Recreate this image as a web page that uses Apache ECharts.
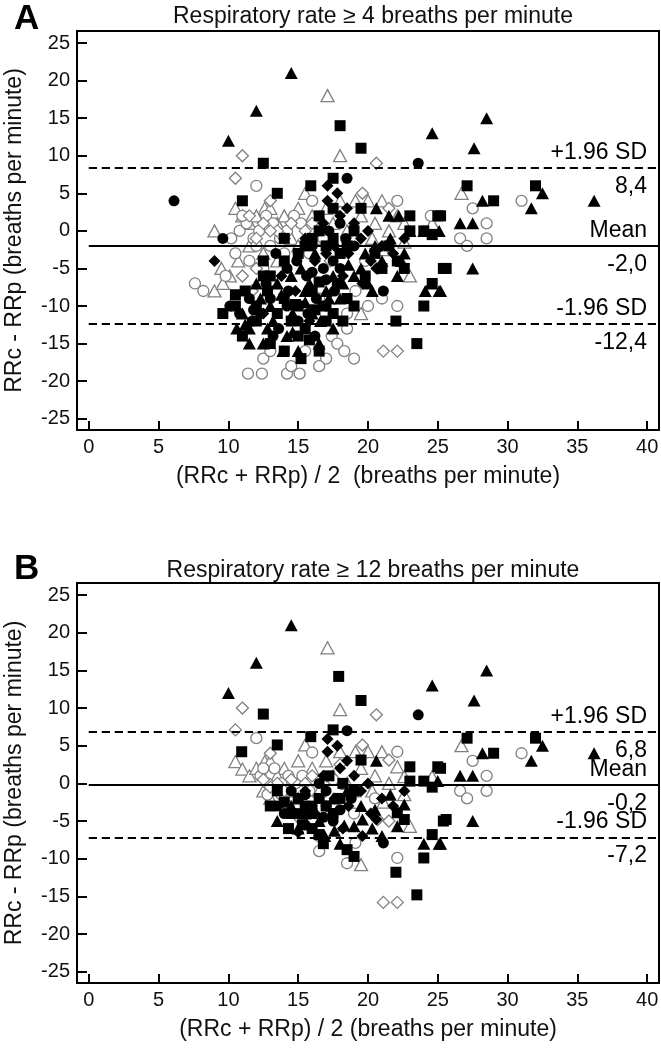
<!DOCTYPE html>
<html>
<head>
<meta charset="utf-8">
<script src="https://cdn.jsdelivr.net/npm/echarts@6/dist/echarts.min.js"></script>
<style>html,body{margin:0;padding:0;background:#fff}#c{width:661px;height:1048px}</style>
</head>
<body>
<div id="c"></div>
<script>
// ---------- DATA ----------
const panelLetters = ['A', 'B'];
const panelTitles = ['Respiratory rate \u2265 4 breaths per minute', 'Respiratory rate \u2265 12 breaths per minute'];
const xTitles = ['(RRc + RRp) / 2  (breaths per minute)', '(RRc + RRp) / 2 (breaths per minute)'];
const yTitle = 'RRc - RRp (breaths per minute)';
const xTicks = [0, 5, 10, 15, 20, 25, 30, 35, 40];
const yTicks = [-25, -20, -15, -10, -5, 0, 5, 10, 15, 20, 25];
// Bland-Altman statistics: [upper LoA, mean, lower LoA]
const statsA = [8.4, -2.0, -12.4];
const statsB = [6.8, -0.2, -7.2];
const statTextA = ['8,4', '-2,0', '-12,4'];
const statTextB = ['6,8', '-0,2', '-7,2'];

// Panel A points [mean, difference]
const A_triOpen = [[17.1,18],[18.0,10],[26.7,5],[10.5,3],[11.0,2],[12.6,3],[9.0,0],[9.5,-5],[10.1,-6],[9.0,-8],[9.6,-7],[15.5,5],[18.0,4],[19.1,4],[20.0,4],[21.0,4],[22.1,2],[22.6,1],[24.6,1],[22.6,-1.5],[21.1,-2.5],[23.0,-6],[19.5,-11],[11.5,1],[12,2],[13,3],[14,2],[15,3],[16,2],[17,3],[13.5,1],[14.5,-1],[15,-2],[16.5,-1],[17.5,1],[18.5,0],[19.5,2],[20.5,1],[21.5,0],[11.5,-2],[12.5,-3],[10.7,-4],[13.5,-4],[20.3,-1],[16.8,0.5],[19,-1]];
const A_cirOpen = [[12.0,6],[27.5,3],[31.0,4],[28.5,1],[26.6,-1],[27.1,-2],[28.5,-1],[22.1,4],[16.0,4],[7.6,-7],[8.2,-8],[10.2,-1],[10.8,0],[11.3,1],[11.8,-1],[12.2,0],[12.7,2],[13.2,1],[13.7,-1],[14.2,0],[14.7,2],[15.2,1],[11,2],[12,-2],[13,-2],[14,-3],[10.5,-3],[11.5,-4],[12.5,-5],[22.1,-10],[16.5,-9],[18.5,-11],[19.1,-8],[15.5,-16],[17.4,-14],[17.8,-15],[18.3,-16],[17,-17],[11.4,-19],[12.4,-19],[14.2,-19],[15.1,-19],[18.5,-13],[19,-17],[14.5,-18],[16.5,-18],[20,-10],[12.5,-17],[13,-16],[9.8,-6],[24.5,2],[21,-9],[19.8,-4],[15.8,-3],[16.8,-1]];
const A_diaOpen = [[11.0,10],[10.5,7],[20.6,9],[19.6,5],[13.0,4],[21.5,3],[21.1,-16],[22.1,-16],[11.5,2],[12.5,1],[13.5,0],[14.5,1],[15.5,0],[12,-1],[13,0],[14,-1],[16,1],[11,-6],[12,-5],[11.7,-8],[17.3,-4],[20.7,-5],[18,2.5]];
const A_triFill = [[10.0,12],[12.0,16],[14.5,21],[24.6,13],[28.5,15],[27.6,11],[36.2,4],[32.5,5],[31.7,3],[28.2,4],[26.6,1],[27.5,1],[27.5,-5],[25.2,-8],[24.1,-8],[25.1,-8],[25.1,0],[20.6,3],[21.6,-1],[22.6,-3],[22.1,-6],[18.6,-4.5],[17.0,-8],[15.5,-9.5],[14.6,-11],[13.9,-16],[15.0,-16],[17.5,-13],[10.6,-13],[11.5,-13],[11.5,-15],[12.5,-15],[12.3,-9],[13.2,-12],[14.2,-14],[16.0,-11],[16.6,-12],[18.0,-9],[19.5,-5],[20.0,-7],[21.0,-4],[23.0,0],[24.0,0],[17.5,-6],[19.0,-6],[12.0,-7],[13.5,-7],[15.2,-5],[16.2,-3],[20.5,-2],[13,-10],[11,-11],[12.8,-13],[16.5,-15],[17.2,-9],[18.2,-7],[19.8,-3],[20.3,-8],[22.4,-4],[14.5,-6],[15.8,-7],[24.5,-7],[21.5,2],[22.2,2],[13.8,-8.5],[15.5,-8],[11.2,-12.5],[14.6,-13.5]];
const A_sqFill = [[12.5,9],[18.0,14],[19.5,11],[11.0,4],[15.9,6],[17.5,7],[13.5,5],[19.5,3],[23.0,2],[25.0,2],[23.0,0],[24.0,0],[24.6,-0.5],[22.1,-4],[22.6,-5],[24.6,-7],[24.0,-10],[22.0,-12],[23.5,-15],[25.6,-5],[27.1,6],[29.0,4],[32.0,6],[25.4,-5],[25.2,2],[9.6,-11],[10.5,-10],[11.2,-8],[12,-10],[12.8,-8],[13.5,-11],[14,-9],[14.5,-12],[15,-10],[15.5,-13],[16,-8],[16.5,-6.8],[16.8,-10],[17.5,-11],[18.2,-12],[18.5,-9],[19,-10],[13,-6],[14,-4],[15,-3],[15.5,-2],[16,-1],[16.5,0],[17,-2],[17.5,-1],[18,-3],[18.5,-2],[19,0],[16.5,2],[17.5,3],[15,-14],[14,-16],[15.2,-17],[16.5,-16],[12,-12],[11,-14],[13,-15],[17.8,-7],[19.8,-6],[20.5,-3],[21,-5],[21.5,-2],[12.5,-4],[14,-1],[12.5,-6],[14.8,-9.8],[16.2,-10.5],[15.8,-14.5],[17,-12],[10.5,-8.5]];
const A_cirFill = [[6.1,4],[9.6,-1],[23.6,9],[18.5,7],[21.1,-8],[10.1,-10],[10.8,-11],[11.5,-9],[12.3,-11],[13,-9],[13.6,-13],[14.3,-8],[15,-12],[15.7,-11],[16.3,-9],[17,-10],[17.5,-4],[18,-5],[18.4,-1],[16.8,-5],[15.6,-6],[14.9,-4],[16,-2],[17.2,0],[18,1],[19,-2],[14.2,-10],[12.7,-7],[11.7,-12],[13.4,-3],[16.2,-14],[17.6,-8],[11.8,-10.5],[13.2,-14],[16,-5.5],[17,-6.5],[14.2,-5]];
const A_diaFill = [[9.0,-4],[17.1,6],[17.1,4],[17.8,5],[18.5,3],[18,2],[19,1],[19.5,-1],[20,0],[18.6,-3],[17.6,-2],[16.8,1],[16.2,-4],[15.5,-1],[20.2,-4],[21,-2],[21.8,-3],[22.6,-1],[19.6,-7],[20.6,-5],[18.2,-6],[17,-3],[13.8,-6],[12.5,-11],[14.8,-8],[15.8,-12]];

// Panel B points [mean, difference]
const B_triOpen = [[17.1,18],[18.0,9.8],[26.7,5],[10.5,2.9],[11.0,1.9],[12.6,2.9],[15.5,5.1],[18.0,4.2],[19.1,4.2],[20.0,4.2],[21.0,4.2],[22.1,2.2],[22.6,0.9],[24.6,0.9],[22.6,-1.5],[21.1,-2.5],[23.0,-5.7],[19.5,-10.8],[11.5,1],[12,2],[13,3],[14,2],[15,3],[16,2],[17,3],[13.5,1],[14.5,-1],[15,-2],[16.5,-1],[17.5,1],[18.5,0],[19.5,2],[20.5,1],[21.5,0],[12.5,-1],[13,-2],[14.2,-3.5],[20.3,-1],[19,-1]];
const B_cirOpen = [[12.0,6],[16.0,4.1],[22.1,4.2],[27.5,3],[31.0,4],[28.5,1],[26.6,-1],[27.1,-2],[28.5,-1],[22.1,-9.9],[16.5,-9],[18.5,-10.6],[19.1,-7.9],[12.3,1],[12.8,0],[13.3,2],[13.8,0],[14.3,1],[14.8,0],[15.3,1],[12.8,-1.5],[13.8,-1.5],[14.3,-3],[12.5,2],[20.5,-2],[19,-4],[17.5,0.5],[15.8,-1],[16.5,-7]];
const B_diaOpen = [[11.0,10],[10.5,7.1],[20.6,9.1],[19.6,5.1],[13.0,4],[21.5,3.1],[21.1,-15.8],[22.1,-15.8],[12.5,0.5],[13.5,0],[14.5,0.5],[15.5,0],[13,-0.5],[14,-1],[16,1],[17.3,-4],[20.7,-4.8],[18,2.5],[15,-4.5],[21.5,-5]];
const B_triFill = [[10.0,12],[12.0,16],[14.5,21],[24.6,13],[28.5,15],[27.6,11],[36.2,4],[32.5,5],[31.7,3],[28.2,4],[26.6,1],[27.5,1],[27.5,-5],[25.2,-8],[24.0,-8],[25.1,-8],[25.0,0.3],[20.6,3],[21.6,-1.5],[22.6,-2.8],[22.1,-5.7],[16.9,-7],[17.6,-6.3],[18.3,-5.6],[19,-5.7],[19.6,-4.8],[20.3,-6],[16.5,-5],[15.5,-4],[14.5,-3],[17.5,-2],[18.5,-1],[19.5,-3],[20.5,-3.5],[13.5,-5],[15,-6],[21,-7],[18,-8]];
const B_sqFill = [[12.5,9.2],[17.9,14.2],[19.5,11],[10.95,4.2],[15.9,6.2],[17.5,7.1],[13.5,5.1],[19.5,3.1],[23.0,2.2],[25.0,2.2],[23.0,0.3],[24.0,0.3],[24.6,-0.5],[22.1,-3.9],[22.6,-4.8],[24.6,-6.8],[24.0,-9.9],[22.0,-11.8],[23.5,-14.8],[25.6,-4.8],[27.1,6],[29.0,4],[32.0,6],[25.4,-5],[25.2,2],[16.5,-6.8],[18.5,-8.8],[19.0,-9.7],[13.5,-1],[14,-2.5],[14.5,-4],[15,-2],[15.5,-3],[16,-4],[16.5,-2],[17,-3],[17.5,-4],[18,-2],[16,-6],[16.8,-8],[15.3,-5.5],[13,-3],[14.3,-6],[17.2,1],[18.2,0],[19,-1]];
const B_cirFill = [[23.6,9.1],[18.5,7],[21.1,-7.9],[14.5,-1],[15.5,-1.5],[16,-3],[17,-1],[16.5,0],[15,-4],[16.8,-4.5],[18,-3.5],[17.5,-5],[14,-4],[15.5,-5.5],[18.8,-2],[13.5,-3]];
const B_diaFill = [[17.1,5.9],[17.1,4.2],[17.8,5],[18.5,3],[18,2],[19,1],[19.5,-1],[20,0],[18.6,-3],[17.6,-2],[16.8,1],[16.2,-4],[15.5,-1],[20.2,-4],[21,-2],[21.8,-3],[22.6,-1],[19.6,-7],[20.6,-4.8],[18.2,-6],[17,-3],[15,-6.5]];

// ---------- CHART ----------
const FONT = '"Liberation Sans", Arial, sans-serif';
const X_MIN = -0.85, X_MAX = 40.85, Y_MIN = -26.5, Y_MAX = 26.6;
const gridsPos = [{left: 77, top: 31, width: 582, height: 399}, {left: 77, top: 583, width: 582, height: 400}];

const shapes = {
  triOpen:  {symbol: 'triangle', size: [13, 12], open: true},
  cirOpen:  {symbol: 'circle',   size: 11, open: true},
  diaOpen:  {symbol: 'diamond',  size: 12, open: true},
  triFill:  {symbol: 'triangle', size: [13, 12], open: false},
  sqFill:   {symbol: 'rect',     size: 11, open: false},
  cirFill:  {symbol: 'circle',   size: 11, open: false},
  diaFill:  {symbol: 'diamond',  size: 12, open: false}
};
const panelData = [
  {triOpen: A_triOpen, cirOpen: A_cirOpen, diaOpen: A_diaOpen, triFill: A_triFill, sqFill: A_sqFill, cirFill: A_cirFill, diaFill: A_diaFill},
  {triOpen: B_triOpen, cirOpen: B_cirOpen, diaOpen: B_diaOpen, triFill: B_triFill, sqFill: B_sqFill, cirFill: B_cirFill, diaFill: B_diaFill}
];
const stats = [statsA, statsB];
const statTexts = [statTextA, statTextB];
const statNames = ['+1.96 SD', 'Mean', '-1.96 SD'];
const LBL = {show: true, color: '#000', fontSize: 23, fontFamily: FONT};

const series = [];
panelData.forEach((pd, i) => {
  const ml = [];
  stats[i].forEach((v, k) => {
    const ls = {color: '#000', width: 2, type: k === 1 ? 'solid' : [8, 5], opacity: 1};
    ml.push([{coord: [0, v], lineStyle: ls, label: Object.assign({position: 'insideEndTop', formatter: statNames[k], distance: [12, 4]}, LBL)}, {coord: [X_MAX, v]}]);
    ml.push([{coord: [0, v], lineStyle: ls, label: Object.assign({position: 'insideEndBottom', formatter: statTexts[i][k], distance: [12, 7]}, LBL)}, {coord: [X_MAX, v]}]);
  });
  series.push({type: 'line', xAxisIndex: i, yAxisIndex: i, data: [], silent: true,
    markLine: {symbol: ['none', 'none'], silent: true, animation: false, data: ml}});
  Object.keys(shapes).forEach(k => {
    const s = shapes[k];
    series.push({
      type: 'scatter', xAxisIndex: i, yAxisIndex: i, data: pd[k], symbol: s.symbol, symbolSize: s.size,
      itemStyle: s.open ? {color: '#fff', borderColor: '#808080', borderWidth: 1.3, opacity: 1} : {color: '#000', opacity: 1},
      z: s.open ? 3 : 4, animation: false
    });
  });
});

const option = {
  backgroundColor: '#fff',
  animation: false,
  title: [
    {text: panelLetters[0], left: 9, top: -3, textStyle: {fontFamily: FONT, fontSize: 35, fontWeight: 'bold', color: '#000'}},
    {text: panelTitles[0], left: 368, textAlign: 'center', top: 0, textStyle: {fontFamily: FONT, fontSize: 23, fontWeight: 'normal', color: '#111'}},
    {text: panelLetters[1], left: 9, top: 547, textStyle: {fontFamily: FONT, fontSize: 35, fontWeight: 'bold', color: '#000'}},
    {text: panelTitles[1], left: 368, textAlign: 'center', top: 554, textStyle: {fontFamily: FONT, fontSize: 23, fontWeight: 'normal', color: '#111'}}
  ],
  grid: gridsPos.map(g => Object.assign({show: true, borderColor: '#000', borderWidth: 2, backgroundColor: '#fff', containLabel: false, outerBoundsMode: 'none'}, g)),
  xAxis: [0, 1].map(i => ({
    type: 'value', gridIndex: i, min: X_MIN, max: X_MAX,
    name: xTitles[i], nameLocation: 'middle', nameGap: 35,
    nameTextStyle: {fontFamily: FONT, fontSize: 23, color: '#111'},
    axisLine: {show: true, onZero: false, lineStyle: {color: '#000', width: 2}},
    axisTick: {show: true, inside: true, length: 9, customValues: xTicks, lineStyle: {color: '#000', width: 2}},
    axisLabel: {customValues: xTicks, margin: 7, fontFamily: FONT, fontSize: 20, color: '#111'},
    splitLine: {show: false}
  })),
  yAxis: [0, 1].map(i => ({
    type: 'value', gridIndex: i, min: Y_MIN, max: Y_MAX,
    name: yTitle, nameLocation: 'middle', nameGap: 51, nameRotate: 90,
    nameTextStyle: {fontFamily: FONT, fontSize: 23, color: '#111'},
    axisLine: {show: true, onZero: false, lineStyle: {color: '#000', width: 2}},
    axisTick: {show: true, inside: true, length: 10, customValues: yTicks, lineStyle: {color: '#000', width: 2}},
    axisLabel: {customValues: yTicks, margin: 7, fontFamily: FONT, fontSize: 20, color: '#111'},
    splitLine: {show: false}
  })),
  series: series
};
const chart = echarts.init(document.getElementById('c'), null, {renderer: 'canvas'});
chart.setOption(option);
</script>
</body>
</html>
